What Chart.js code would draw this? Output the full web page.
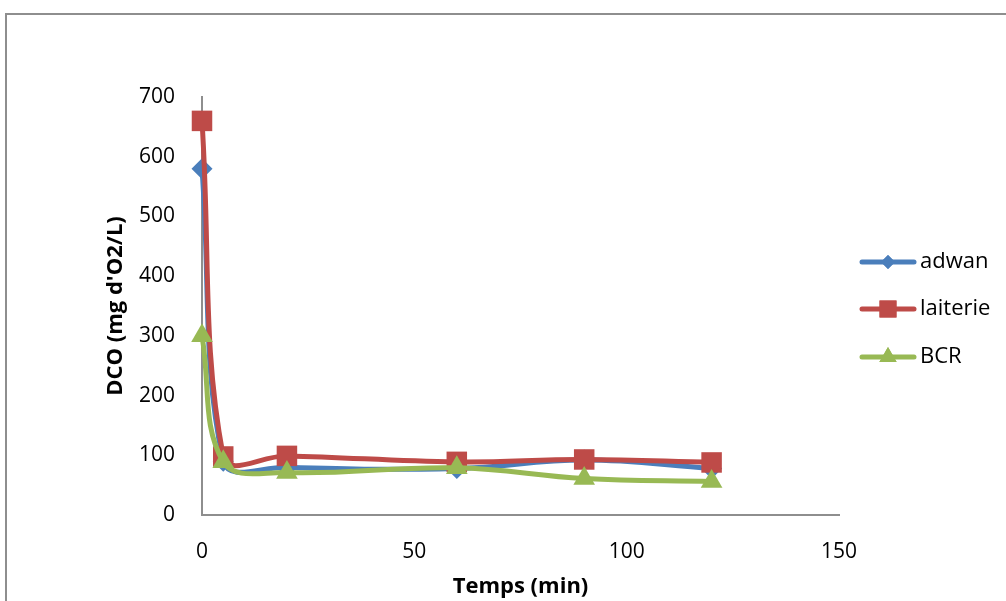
<!DOCTYPE html>
<html>
<head>
<meta charset="utf-8">
<script src="https://cdn.jsdelivr.net/npm/chart.js@4.4.0/dist/chart.umd.min.js"></script>
<style>
  html, body { margin: 0; padding: 0; background: #fff; }
  #wrap { position: relative; width: 1006px; height: 601px; overflow: hidden; }
  #frame { position: absolute; left: 5px; top: 13px; width: 1020px; height: 620px; border: 2px solid #8e8e8e; box-sizing: border-box; }
  canvas { position: absolute; left: 0; top: 0; }
</style>
</head>
<body>
<div id="wrap">
  <div id="frame"></div>
  <canvas id="dcoChart" width="1006" height="601"></canvas>
</div>
<script>
  // temps (min)
  const times = [0, 5, 20, 60, 90, 120];
  // DCO (mg d'O2/L)
  const adwan = [580, 90, 80, 78, 92, 78];
  const laiterie = [660, 98, 99, 89, 93, 88];
  const bcr = [300, 89, 71, 79, 61, 56];
  const xTicks = [0, 50, 100, 150];
  const yTicks = [0, 100, 200, 300, 400, 500, 600, 700];

  const FONT = "'Open Sans', 'Liberation Sans', sans-serif";

  function toPoints(values) {
    return times.map((t, i) => ({ x: t, y: values[i] }));
  }

  // legend with a line through the marker, like the spreadsheet one
  const sideLegend = {
    id: 'sideLegend',
    afterDraw(chart) {
      const ctx = chart.ctx;
      const rows = [
        { ds: 0, y: 262, r: 7 },
        { ds: 1, y: 309, r: 12 },
        { ds: 2, y: 357, r: 10 }
      ];
      ctx.save();
      rows.forEach(row => {
        const d = chart.data.datasets[row.ds];
        ctx.strokeStyle = d.borderColor;
        ctx.lineWidth = 5;
        ctx.lineCap = 'round';
        ctx.beginPath();
        ctx.moveTo(862, row.y);
        ctx.lineTo(914, row.y);
        ctx.stroke();
        ctx.fillStyle = d.pointBackgroundColor;
        Chart.helpers.drawPoint(ctx, { pointStyle: d.pointStyle, radius: row.r, borderWidth: 0, rotation: 0 }, 888, row.y);
        ctx.fill();
        ctx.fillStyle = '#000';
        ctx.font = '22px ' + FONT;
        ctx.textBaseline = 'middle';
        ctx.textAlign = 'left';
        ctx.fillText(d.label, 920, row.y);
      });
      ctx.restore();
    }
  };

  new Chart(document.getElementById('dcoChart'), {
    type: 'scatter',
    data: {
      datasets: [
        {
          label: 'adwan',
          data: toPoints(adwan),
          borderColor: '#4a7ebb',
          backgroundColor: '#4a7ebb',
          pointBackgroundColor: '#4a7ebb',
          pointBorderWidth: 0,
          pointStyle: 'rectRot',
          pointRadius: 10.5,
          clip: false,
          order: 3
        },
        {
          label: 'laiterie',
          data: toPoints(laiterie),
          borderColor: '#be4b48',
          backgroundColor: '#be4b48',
          pointBackgroundColor: '#be4b48',
          pointBorderWidth: 0,
          pointStyle: 'rect',
          pointRadius: 14.5,
          clip: false,
          order: 2
        },
        {
          label: 'BCR',
          data: toPoints(bcr),
          borderColor: '#98b954',
          backgroundColor: '#98b954',
          pointBackgroundColor: '#98b954',
          pointBorderWidth: 0,
          pointStyle: 'triangle',
          pointRadius: 12.5,
          clip: false,
          order: 1
        }
      ]
    },
    options: {
      responsive: false,
      animation: false,
      showLine: true,
      elements: {
        line: { tension: 0.4, borderWidth: 5, fill: false }
      },
      layout: { padding: { top: 97, right: 167, bottom: 0, left: 0 } },
      plugins: {
        legend: { display: false },
        tooltip: { enabled: false }
      },
      scales: {
        x: {
          type: 'linear',
          min: 0,
          max: 150,
          afterFit: s => { s.height = 86; },
          afterBuildTicks: s => { s.ticks = xTicks.map(v => ({ value: v })); },
          grid: { display: false, drawTicks: false },
          border: { display: true, color: '#8e8e8e', width: 2 },
          ticks: { color: '#000', padding: 24, font: { family: FONT, size: 21 } },
          title: {
            display: true,
            text: 'Temps (min)',
            color: '#000',
            padding: { top: 0, bottom: 1 },
            font: { family: FONT, size: 22, weight: 'bold' }
          }
        },
        y: {
          min: 0,
          max: 700,
          afterFit: s => { s.width = 202; },
          afterBuildTicks: s => { s.ticks = yTicks.map(v => ({ value: v })); },
          grid: { display: false, drawTicks: false },
          border: { display: true, color: '#8e8e8e', width: 2 },
          ticks: { color: '#000', padding: 27, font: { family: FONT, size: 21 } },
          title: {
            display: true,
            text: "DCO (mg d'O2/L)",
            color: '#000',
            padding: { top: 103, bottom: 0 },
            font: { family: FONT, size: 22, weight: 'bold' }
          }
        }
      }
    },
    plugins: [sideLegend]
  });
</script>
</body>
</html>
